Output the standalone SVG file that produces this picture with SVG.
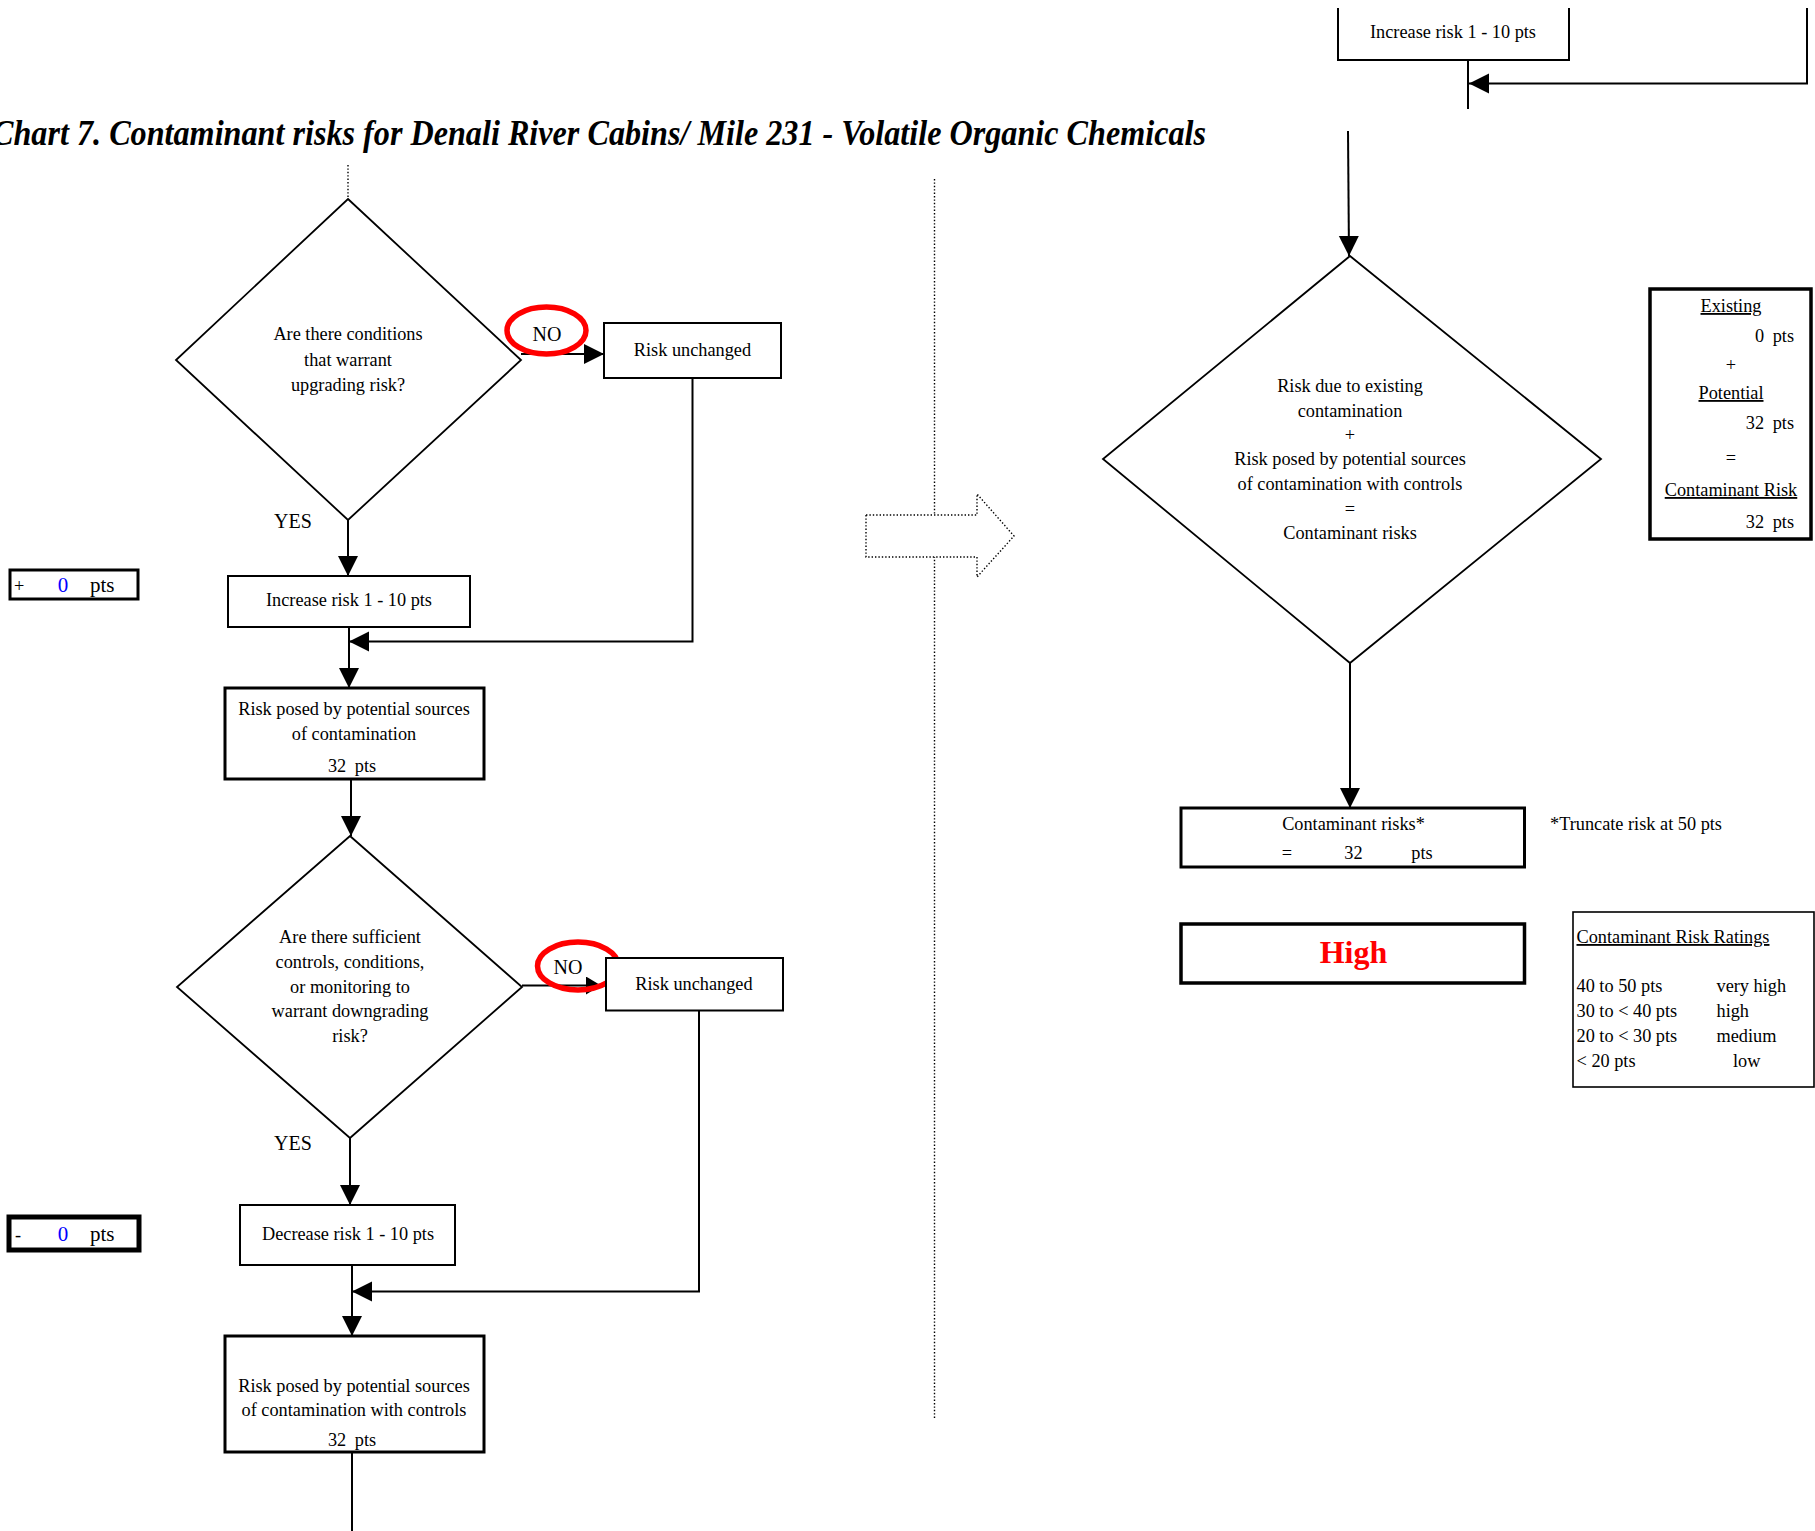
<svg xmlns="http://www.w3.org/2000/svg" width="1815" height="1531" viewBox="0 0 1815 1531">
<style>
text{font-family:"Liberation Serif","Times New Roman",serif;font-size:18.3px;fill:#000}
.c{text-anchor:middle}
.e{text-anchor:end}
.big{font-size:20px}
.u{text-decoration:underline}
.box{fill:#fff;stroke:#000;stroke-width:2}
.thick{fill:#fff;stroke:#000;stroke-width:3.5}
.dia{fill:#fff;stroke:#000;stroke-width:1.8}
.ln{fill:none;stroke:#000;stroke-width:2}
.dot{fill:none;stroke:#000;stroke-width:1.4;stroke-dasharray:1.4 2}
.oval{fill:none;stroke:#ff0000;stroke-width:5.5}
.blue{fill:#0000ff;font-size:21px}
</style>
<defs>
<marker id="ah" markerUnits="userSpaceOnUse" markerWidth="22" markerHeight="22" refX="20" refY="10" orient="auto">
<path d="M0,0 L20,10 L0,20 Z" fill="#000"/>
</marker>
<marker id="ahs" markerUnits="userSpaceOnUse" markerWidth="18" markerHeight="20" refX="15" refY="9" orient="auto">
<path d="M0,0 L15,9 L0,18 Z" fill="#000"/>
</marker>
</defs>
<rect width="1815" height="1531" fill="#fff"/>

<text x="-8" y="145" style="font-weight:bold;font-style:italic;font-size:35px" textLength="1214" lengthAdjust="spacingAndGlyphs">Chart 7. Contaminant risks for Denali River Cabins/ Mile 231 - Volatile Organic Chemicals</text>

<g id="divider">
<line class="dot" x1="934.5" y1="179" x2="934.5" y2="1418"/>
<polygon class="dot" points="866,515 977,515 977,494 1014,536 977,577 977,557 866,557" style="fill:#fff"/>
</g>

<g id="connectors">
<line class="dot" x1="348" y1="165" x2="348" y2="199"/>
<line class="ln" x1="521" y1="354" x2="604" y2="354" marker-end="url(#ah)"/>
<polyline class="ln" points="692.5,378 692.5,641.5 349,641.5" marker-end="url(#ah)"/>
<line class="ln" x1="348" y1="520" x2="348" y2="576" marker-end="url(#ah)"/>
<line class="ln" x1="349" y1="627" x2="349" y2="688" marker-end="url(#ah)"/>
<line class="ln" x1="351" y1="779" x2="351" y2="836" marker-end="url(#ah)"/>
<line class="ln" x1="522" y1="985.5" x2="601" y2="985.5" marker-end="url(#ahs)"/>
<polyline class="ln" points="699,1010.5 699,1291.5 352,1291.5" marker-end="url(#ah)"/>
<line class="ln" x1="350" y1="1138" x2="350" y2="1205" marker-end="url(#ah)"/>
<line class="ln" x1="352" y1="1265" x2="352" y2="1336" marker-end="url(#ah)"/>
<line class="ln" x1="352" y1="1452" x2="352" y2="1531"/>
<line class="ln" x1="1468" y1="60" x2="1468" y2="109"/>
<polyline class="ln" points="1807,8 1807,83.5 1469,83.5" marker-end="url(#ah)"/>
<line class="ln" x1="1348" y1="131" x2="1349" y2="256" marker-end="url(#ah)"/>
<line class="ln" x1="1350" y1="663" x2="1350" y2="808" marker-end="url(#ah)"/>
</g>

<g id="q1">
<polygon class="dia" points="348,199 521,360 348,520 176,360"/>
<text class="c" x="348" y="340">Are there conditions</text>
<text class="c" x="348" y="366">that warrant</text>
<text class="c" x="348" y="391">upgrading risk?</text>
</g>
<g id="no1">
<ellipse class="oval" cx="546.5" cy="330.5" rx="39.5" ry="23.5"/>
<text class="c big" x="547" y="341">NO</text>
</g>
<g id="yes1"><text class="c big" x="293" y="528">YES</text></g>
<g id="unchanged1">
<rect class="box" x="604" y="323" width="177" height="55"/>
<text class="c" x="692.5" y="356">Risk unchanged</text>
</g>
<g id="increase1">
<rect class="box" x="228" y="576" width="242" height="51"/>
<text class="c" x="349" y="606">Increase risk 1 - 10 pts</text>
</g>
<g id="plus0">
<rect class="thick" x="10" y="570" width="128" height="29" style="stroke-width:3"/>
<text x="14" y="592">+</text>
<text class="blue c" x="63" y="592">0</text>
<text x="90" y="592" style="font-size:21px">pts</text>
</g>
<g id="potential">
<rect class="thick" x="225" y="688" width="259" height="91" style="stroke-width:3"/>
<text class="c" x="354" y="715">Risk posed by potential sources</text>
<text class="c" x="354" y="740">of contamination</text>
<text class="c" x="352" y="772" style="word-spacing:4px">32 pts</text>
</g>
<g id="q2">
<polygon class="dia" points="350,836 522,987 350,1138 177,987"/>
<text class="c" x="350" y="943">Are there sufficient</text>
<text class="c" x="350" y="968">controls, conditions,</text>
<text class="c" x="350" y="993">or monitoring to</text>
<text class="c" x="350" y="1017">warrant downgrading</text>
<text class="c" x="350" y="1042">risk?</text>
</g>
<g id="no2">
<ellipse class="oval" cx="578" cy="966" rx="40.5" ry="24"/>
<text class="c big" x="568" y="974">NO</text>
</g>
<g id="unchanged2">
<rect class="box" x="606" y="958" width="177" height="52.5"/>
<text class="c" x="694" y="990">Risk unchanged</text>
</g>
<g id="yes2"><text class="c big" x="293" y="1150">YES</text></g>
<g id="decrease">
<rect class="box" x="240" y="1205" width="215" height="60"/>
<text class="c" x="348" y="1240">Decrease risk 1 - 10 pts</text>
</g>
<g id="minus0">
<rect class="thick" x="9" y="1217" width="130" height="33" style="stroke-width:5"/>
<text x="15" y="1241">-</text>
<text class="blue c" x="63" y="1241">0</text>
<text x="90" y="1241" style="font-size:21px">pts</text>
</g>
<g id="withcontrols">
<rect class="thick" x="225" y="1336" width="259" height="116" style="stroke-width:3"/>
<text class="c" x="354" y="1392">Risk posed by potential sources</text>
<text class="c" x="354" y="1416">of contamination with controls</text>
<text class="c" x="352" y="1446" style="word-spacing:4px">32 pts</text>
</g>

<g id="increase2">
<path class="ln" d="M1338,8 V60 H1569 V8"/>
<text class="c" x="1453" y="38">Increase risk 1 - 10 pts</text>
</g>
<g id="q3">
<polygon class="dia" points="1350,256 1601,459 1350,663 1103,459"/>
<text class="c" x="1350" y="392">Risk due to existing</text>
<text class="c" x="1350" y="417">contamination</text>
<text class="c" x="1350" y="441">+</text>
<text class="c" x="1350" y="465">Risk posed by potential sources</text>
<text class="c" x="1350" y="490">of contamination with controls</text>
<text class="c" x="1350" y="515">=</text>
<text class="c" x="1350" y="539">Contaminant risks</text>
</g>
<g id="summary">
<rect class="thick" x="1650" y="289" width="161" height="250"/>
<text class="c u" x="1731" y="312">Existing</text>
<text class="e" x="1794" y="342" style="word-spacing:4px">0 pts</text>
<text class="c" x="1731" y="371">+</text>
<text class="c u" x="1731" y="399">Potential</text>
<text class="e" x="1794" y="429" style="word-spacing:4px">32 pts</text>
<text class="c" x="1731" y="464">=</text>
<text class="c u" x="1731" y="496">Contaminant Risk</text>
<text class="e" x="1794" y="528" style="word-spacing:4px">32 pts</text>
</g>
<g id="result">
<rect class="thick" x="1181" y="808" width="343.5" height="59" style="stroke-width:3"/>
<text class="c" x="1353.5" y="830">Contaminant risks*</text>
<text class="c" x="1287" y="859">=</text>
<text class="c" x="1353.5" y="859">32</text>
<text class="c" x="1422" y="859">pts</text>
</g>
<g id="truncate"><text x="1550" y="830">*Truncate risk at 50 pts</text></g>
<g id="rating">
<rect class="thick" x="1181" y="924" width="343.5" height="59"/>
<text class="c" x="1353.5" y="963" style="font-weight:bold;font-size:32px;fill:#ff0000">High</text>
</g>
<g id="ratings">
<rect class="box" x="1573" y="912" width="241" height="175" style="stroke-width:1.6"/>
<text class="u" x="1576.5" y="943">Contaminant Risk Ratings</text>
<text x="1576.5" y="992">40 to 50 pts</text>
<text x="1716.5" y="992">very high</text>
<text x="1576.5" y="1017">30 to &lt; 40 pts</text>
<text x="1716.5" y="1017">high</text>
<text x="1576.5" y="1042">20 to &lt; 30 pts</text>
<text x="1716.5" y="1042">medium</text>
<text x="1576.5" y="1067">&lt; 20 pts</text>
<text x="1733" y="1067">low</text>
</g>
</svg>
